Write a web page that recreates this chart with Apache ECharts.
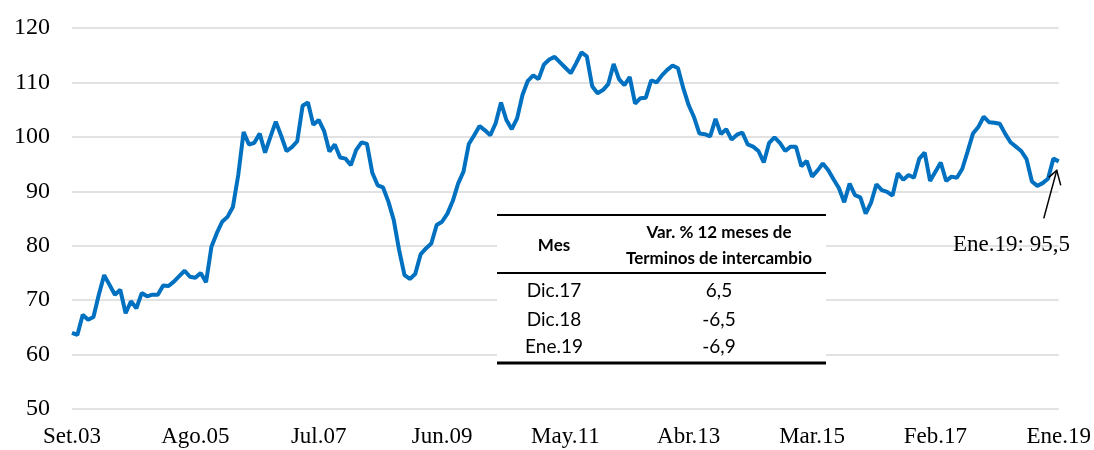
<!DOCTYPE html>
<html>
<head>
<meta charset="utf-8">
<script src="https://cdn.jsdelivr.net/npm/echarts@6/dist/echarts.min.js"></script>
<style>
  html, body { margin: 0; padding: 0; background: #fff; }
  #chart { width: 1094px; height: 450px; }
</style>
</head>
<body>
<div id="chart"></div>
<script>
// meses en español, serie mensual Set.03 - Ene.19
const monthNames = ['Ene', 'Feb', 'Mar', 'Abr', 'May', 'Jun', 'Jul', 'Ago', 'Set', 'Oct', 'Nov', 'Dic']
const startYear = 2003
const startMonth = 8 // Set
const terminos = [
  64.0, 63.6, 67.3, 66.4, 66.9, 71.0, 74.6, 72.8, 71.0, 71.9, 67.6, 69.8,
  68.5, 71.3, 70.7, 71.0, 71.0, 72.7, 72.6, 73.4, 74.4, 75.4, 74.3, 74.1,
  75.0, 73.3, 79.8, 82.3, 84.4, 85.3, 87.1, 93.0, 100.9, 98.6, 98.9, 100.6,
  97.1, 100.0, 102.8, 100.2, 97.4, 98.1, 99.2, 105.7, 106.3, 102.2, 103.1, 101.1,
  97.3, 98.6, 96.2, 96.0, 94.8, 97.6, 99.0, 98.7, 93.4, 91.1, 90.7, 88.1,
  84.7, 79.2, 74.6, 73.9, 74.8, 78.4, 79.5, 80.4, 83.8, 84.4, 85.9, 88.2,
  91.4, 93.6, 98.7, 100.3, 102.0, 101.2, 100.3, 102.5, 106.3, 103.1, 101.4, 103.4,
  107.7, 110.3, 111.3, 110.6, 113.3, 114.2, 114.7, 113.7, 112.7, 111.7, 113.5, 115.5,
  114.8, 109.3, 108.0, 108.6, 109.7, 113.4, 110.6, 109.5, 111.0, 106.1, 107.1, 107.2,
  110.4, 110.0, 111.3, 112.3, 113.1, 112.6, 108.9, 105.8, 103.6, 100.6, 100.5, 100.1,
  103.3, 100.5, 101.4, 99.5, 100.4, 100.8, 98.6, 98.2, 97.4, 95.3, 98.9, 99.9,
  98.9, 97.4, 98.2, 98.2, 94.6, 95.6, 92.7, 93.8, 95.1, 93.9, 92.2, 90.6,
  88.0, 91.4, 89.3, 88.9, 85.9, 87.9, 91.3, 90.2, 89.9, 89.2, 93.3, 92.1,
  93.0, 92.5, 96.0, 97.1, 91.9, 93.6, 95.3, 91.9, 92.7, 92.5, 94.1, 97.3,
  100.6, 101.8, 103.7, 102.7, 102.6, 102.4, 100.6, 99.0, 98.2, 97.4, 95.9, 91.8,
  91.0, 91.5, 92.3, 96.0, 95.5
]
// tabla de variaciones
const tablaMes = ['Dic.17', 'Dic.18', 'Ene.19']
const tablaVar = ['6,5', '-6,5', '-6,9']
const ultimoLabel = 'Ene.19: 95,5'

const categories = terminos.map((v, i) => {
  const m = startMonth + i
  const yy = String((startYear + Math.floor(m / 12)) % 100).padStart(2, '0')
  return monthNames[m % 12] + '.' + yy
})

const chart = echarts.init(document.getElementById('chart'))
const serif = '"Liberation Serif", "DejaVu Serif", serif'
const sans = 'Lato, "Open Sans", sans-serif'

chart.setOption({
  animation: false,
  backgroundColor: '#fff',
  grid: { left: 72, right: 35, top: 28, bottom: 41 },
  xAxis: {
    type: 'category',
    data: categories,
    boundaryGap: false,
    axisLine: { show: false },
    axisTick: { show: false },
    axisLabel: {
      interval: 22,
      margin: 16,
      color: '#000',
      fontFamily: serif,
      fontSize: 23
    }
  },
  yAxis: {
    type: 'value',
    min: 50,
    max: 120,
    interval: 10,
    axisLine: { show: false },
    axisTick: { show: false },
    axisLabel: { margin: 22, color: '#000', fontFamily: serif, fontSize: 24 },
    splitLine: { lineStyle: { color: '#d9d9d9', width: 1.5 } }
  },
  series: [{
    type: 'line',
    data: terminos,
    showSymbol: false,
    lineStyle: { color: '#0070C0', width: 4 },
    z: 2
  }]
})

// tabla y anotación
const tx = 497, tw = 329, ty = 214
const colMes = 554, colVar = 719
const graphics = [
  { type: 'rect', shape: { x: tx, y: ty, width: tw, height: 150 }, style: { fill: '#fff' }, z: 10 },
  { type: 'line', shape: { x1: tx, y1: ty + 1, x2: tx + tw, y2: ty + 1 }, style: { stroke: '#000', lineWidth: 2 }, z: 11 },
  { type: 'line', shape: { x1: tx, y1: 273, x2: tx + tw, y2: 273 }, style: { stroke: '#000', lineWidth: 2 }, z: 11 },
  { type: 'line', shape: { x1: tx, y1: 363, x2: tx + tw, y2: 363 }, style: { stroke: '#000', lineWidth: 3 }, z: 11 },
  { type: 'text', x: colMes, y: 246, style: { text: 'Mes', font: 'bold 17px ' + sans, fill: '#000', align: 'center', verticalAlign: 'middle' }, z: 11 },
  { type: 'text', x: colVar, y: 233, style: { text: 'Var. % 12 meses de', font: 'bold 17px ' + sans, fill: '#000', align: 'center', verticalAlign: 'middle' }, z: 11 },
  { type: 'text', x: colVar, y: 259, style: { text: 'Terminos de intercambio', font: 'bold 17px ' + sans, fill: '#000', align: 'center', verticalAlign: 'middle' }, z: 11 }
]
const rowY = [291, 320, 347]
tablaMes.forEach((m, i) => {
  graphics.push({ type: 'text', x: colMes, y: rowY[i], style: { text: m, font: '19px ' + sans, fill: '#000', align: 'center', verticalAlign: 'middle' }, z: 11 })
  graphics.push({ type: 'text', x: colVar, y: rowY[i], style: { text: tablaVar[i], font: '19px ' + sans, fill: '#000', align: 'center', verticalAlign: 'middle' }, z: 11 })
})

// flecha al último dato
const last = terminos.length - 1
const p = chart.convertToPixel({ seriesIndex: 0 }, [last, terminos[last]])
const tip = [p[0] - 2, p[1] + 9]
const tail = [p[0] - 15, p[1] + 57]
graphics.push({ type: 'line', shape: { x1: tail[0], y1: tail[1], x2: tip[0], y2: tip[1] }, style: { stroke: '#000', lineWidth: 1.5 }, z: 11 })
graphics.push({ type: 'polyline', shape: { points: [[tip[0] - 8, tip[1] + 7], tip, [tip[0] + 4, tip[1] + 15]] }, style: { stroke: '#000', lineWidth: 1.5, fill: null }, z: 11 })
graphics.push({ type: 'text', x: 953, y: p[1] + 84, style: { text: ultimoLabel, font: '23px ' + serif, fill: '#000', align: 'left', verticalAlign: 'middle' }, z: 11 })

chart.setOption({ graphic: graphics })
</script>
</body>
</html>
